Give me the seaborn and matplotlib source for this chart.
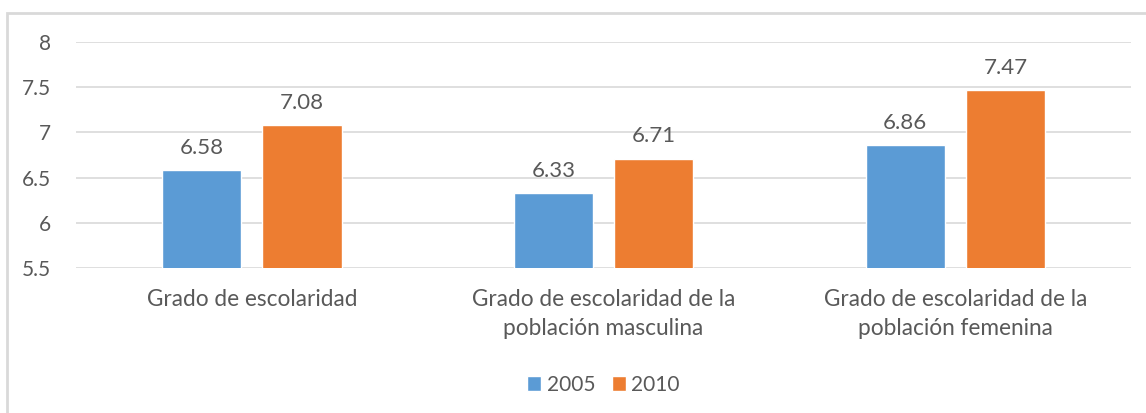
import pandas as pd
import matplotlib.pyplot as plt
import seaborn as sns
from matplotlib.patches import Rectangle

# Data
categorias = ["Grado de escolaridad",
              "Grado de escolaridad de la\npoblación masculina",
              "Grado de escolaridad de la\npoblación femenina"]
valores_2005 = [6.58, 6.33, 6.86]
valores_2010 = [7.08, 6.71, 7.47]
anios = ["2005", "2010"]

df = pd.DataFrame({
    "categoria": categorias * 2,
    "anio": [anios[0]] * 3 + [anios[1]] * 3,
    "valor": valores_2005 + valores_2010,
})

sns.set_style("white")
plt.rcParams["font.family"] = ["Lato", "DejaVu Sans"]
gris = "#595959"

fig = plt.figure(figsize=(11.46, 4.13), dpi=100)
ax = fig.add_axes([0.0663, 0.351, 0.9207, 0.547])

sns.barplot(data=df, x="categoria", y="valor", hue="anio",
            palette=["#5B9BD5", "#ED7D31"], saturation=1,
            width=0.57, gap=0.21, ax=ax, zorder=3)

ax.set_ylim(5.5, 8)
ax.set_yticks([5.5, 6, 6.5, 7, 7.5, 8])
ax.set_yticklabels(["5.5", "6", "6.5", "7", "7.5", "8"])
ax.yaxis.grid(True, color="#D9D9D9", linewidth=1.2, zorder=0)
ax.set_axisbelow(True)
for s in ax.spines.values():
    s.set_visible(False)
ax.tick_params(axis="y", length=0, labelsize=15, labelcolor=gris, pad=18)
ax.tick_params(axis="x", length=0, labelsize=16.3, labelcolor=gris, pad=15)
for lbl in ax.get_xticklabels():
    lbl.set_linespacing(1.5)
ax.set_xlabel("")
ax.set_ylabel("")

for cont in ax.containers:
    ax.bar_label(cont, fmt="%.2f", padding=9, fontsize=16, color=gris)

leg = ax.legend(loc="upper center", bbox_to_anchor=(0.5, -0.39), ncol=2,
                frameon=False, fontsize=15, handlelength=0.68,
                handleheight=0.68, handletextpad=0.25, columnspacing=0.8)
for t in leg.get_texts():
    t.set_color(gris)

# chart border like the Excel frame
fig.patches.append(Rectangle((7 / 1146, -0.1), 1.2, 1 - 13 / 413 + 0.1,
                             transform=fig.transFigure, fill=False,
                             edgecolor="#D9D9D9", linewidth=2))

fig.savefig("out.png", dpi=100)
